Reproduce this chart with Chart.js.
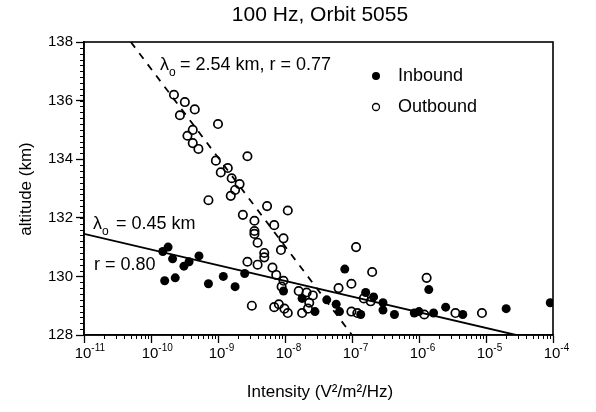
<!DOCTYPE html>
<html>
<head>
<meta charset="utf-8">
<script src="https://cdn.jsdelivr.net/npm/chart.js@4.4.1/dist/chart.umd.min.js"></script>
<style>
  html, body { margin: 0; padding: 0; background: #fff; }
  #wrap { width: 596px; height: 412px; }
</style>
</head>
<body>
<div id="wrap"><canvas id="orbitChart" width="596" height="412"></canvas></div>
<script>
// values: intensity (V^2/m^2/Hz) and altitude (km)
const inboundX = [1.5e-10, 1.8e-10, 2.1e-10, 3.1e-10, 3.7e-10, 5.2e-10, 1.6e-10, 2.3e-10, 7.2e-10, 1.2e-9,
  1.8e-9, 2.5e-9, 9.5e-9, 1.8e-8, 2.8e-8, 4.2e-8, 5.8e-8, 6.5e-8, 7.8e-8, 1.35e-7,
  1.6e-7, 2.1e-7, 2.9e-7, 2.9e-7, 4.3e-7, 8.5e-7, 1.0e-6, 1.4e-6, 1.65e-6, 2.5e-6,
  4.5e-6, 2.0e-5, 9.1e-5];
const inboundY = [130.85, 131.0, 130.6, 130.35, 130.5, 130.7, 129.85, 129.95, 129.75, 130.0,
  129.65, 130.1, 129.5, 129.25, 128.8, 129.2, 129.05, 128.8, 130.25, 128.7,
  129.45, 129.3, 129.1, 128.85, 128.7, 128.75, 128.8, 129.55, 128.75, 128.95,
  128.7, 128.9, 129.1];

const outboundX = [2.2e-10, 3.2e-10, 4.5e-10, 2.7e-10, 1.0e-9, 4.2e-10, 3.5e-10, 4.2e-10, 5.1e-10, 2.75e-9,
  9.3e-10, 1.4e-9, 1.1e-9, 1.6e-9, 2.1e-9, 1.8e-9, 1.55e-9, 7.2e-10, 5.4e-9, 1.1e-8,
  2.35e-9, 3.5e-9, 6.9e-9, 3.5e-9, 3.5e-9, 3.9e-9, 4.9e-9, 4.9e-9, 2.75e-9, 3.9e-9,
  6.5e-9, 7.4e-9, 9.5e-9, 8.9e-9, 1.6e-8, 2.1e-8, 2.6e-8, 2.3e-8, 6.9e-9, 8.1e-9,
  9.8e-9, 1.1e-8, 1.8e-8, 2.2e-8, 3.2e-9, 1.15e-7, 2.0e-7, 9.8e-8, 6.3e-8, 1.5e-7,
  1.9e-7, 9.8e-8, 1.2e-7, 1.3e-6, 1.2e-6, 3.5e-6, 8.7e-6, 8.7e-9, 9.5e-9];
const outboundY = [136.2, 135.95, 135.7, 135.5, 135.2, 135.0, 134.8, 134.55, 134.35, 134.1,
  133.95, 133.7, 133.55, 133.35, 133.15, 132.95, 132.75, 132.6, 132.4, 132.25,
  132.1, 131.9, 131.75, 131.55, 131.45, 131.15, 130.8, 130.65, 130.5, 130.4,
  130.3, 130.05, 129.85, 129.65, 129.5, 129.45, 129.35, 129.1, 128.95, 129.05,
  128.9, 128.75, 128.75, 128.9, 129.0, 131.0, 130.15, 129.75, 129.6, 129.25,
  129.15, 128.8, 128.75, 129.95, 128.7, 128.75, 128.75, 130.9, 131.3];

// fitted lines (end points)
const inboundFitX = [1e-11, 2.8e-5];
const inboundFitY = [131.45, 128];
const outboundFitX = [5e-11, 1e-7];
const outboundFitY = [138, 128];

const decadeTicks = [1e-11, 1e-10, 1e-9, 1e-8, 1e-7, 1e-6, 1e-5, 1e-4];
const decadeExponents = ['-11', '-10', '-9', '-8', '-7', '-6', '-5', '-4'];
const altitudeTicks = [128, 130, 132, 134, 136, 138];

const FONT = "'Liberation Sans', Arial, Helvetica, sans-serif";

function pairs(xs, ys) {
    return xs.map((v, i) => ({ x: v, y: ys[i] }));
}

const overlay = {
    id: 'overlay',
    afterDraw(chart) {
        const { ctx, chartArea: a, scales: { x, y } } = chart;
        ctx.save();
        ctx.strokeStyle = '#000';
        ctx.fillStyle = '#000';

        // frame
        ctx.lineWidth = 1.6;
        ctx.strokeRect(a.left, a.top, a.right - a.left, a.bottom - a.top);

        // minor ticks
        ctx.lineWidth = 1;
        ctx.beginPath();
        for (let i = 1; i < 50; i++) {
            const py = Math.round(y.getPixelForValue(128 + i * 0.2)) + 0.5;
            ctx.moveTo(a.left - 4, py);
            ctx.lineTo(a.left, py);
        }
        for (let d = 0; d < decadeTicks.length - 1; d++) {
            for (let k = 2; k <= 9; k++) {
                const px = Math.round(x.getPixelForValue(k * decadeTicks[d])) + 0.5;
                ctx.moveTo(px, a.bottom);
                ctx.lineTo(px, a.bottom + 4);
            }
        }
        ctx.stroke();

        // x tick labels with superscript exponents
        decadeTicks.forEach((v, i) => {
            const px = x.getPixelForValue(v);
            ctx.font = '15px ' + FONT;
            ctx.textAlign = 'left';
            ctx.textBaseline = 'alphabetic';
            const w = ctx.measureText('10').width;
            ctx.fillText('10', px - w / 2 - 1, 358);
            ctx.font = '10px ' + FONT;
            ctx.fillText(decadeExponents[i], px + w / 2 - 1, 351);
        });

        // title
        ctx.textAlign = 'center';
        ctx.font = '21px ' + FONT;
        ctx.fillText('100 Hz, Orbit 5055', 320, 21);

        // axis titles
        ctx.font = '17px ' + FONT;
        ctx.textBaseline = 'middle';
        ctx.fillText('Intensity (V\u00b2/m\u00b2/Hz)', 320, 392);
        ctx.save();
        ctx.translate(26, 189);
        ctx.rotate(-Math.PI / 2);
        ctx.fillText('altitude (km)', 0, 0);
        ctx.restore();

        // fit annotations
        ctx.textAlign = 'left';
        ctx.textBaseline = 'alphabetic';
        ctx.font = '18px ' + FONT;
        ctx.fillText('\u03bb', 160, 70);
        ctx.fillText('= 2.54 km, r = 0.77', 180, 70);
        ctx.fillText('\u03bb', 93, 229);
        ctx.fillText('= 0.45 km', 116, 229);
        ctx.fillText('r = 0.80', 94, 270);
        ctx.font = '12px ' + FONT;
        ctx.fillText('o', 169, 76);
        ctx.fillText('o', 102, 235);

        // legend
        ctx.beginPath();
        ctx.arc(376, 76, 4, 0, Math.PI * 2);
        ctx.fill();
        ctx.beginPath();
        ctx.lineWidth = 1.3;
        ctx.arc(376, 107, 3.5, 0, Math.PI * 2);
        ctx.stroke();
        ctx.font = '18px ' + FONT;
        ctx.textBaseline = 'middle';
        ctx.fillText('Inbound', 398, 76);
        ctx.fillText('Outbound', 398, 107);

        ctx.restore();
    }
};

const ctx = document.getElementById('orbitChart').getContext('2d');

const orbitChart = new Chart(ctx, {
    type: 'scatter',
    data: {
        datasets: [
            {
                label: 'Inbound',
                data: pairs(inboundX, inboundY),
                pointRadius: 4.5,
                pointBackgroundColor: '#000',
                pointBorderColor: '#000',
                pointBorderWidth: 0
            },
            {
                label: 'Outbound',
                data: pairs(outboundX, outboundY),
                pointRadius: 4.2,
                pointBackgroundColor: 'rgba(0,0,0,0)',
                pointBorderColor: '#000',
                pointBorderWidth: 1.7
            },
            {
                label: 'Inbound fit',
                data: pairs(inboundFitX, inboundFitY),
                showLine: true,
                pointRadius: 0,
                borderColor: '#000',
                borderWidth: 1.8
            },
            {
                label: 'Outbound fit',
                data: pairs(outboundFitX, outboundFitY),
                showLine: true,
                pointRadius: 0,
                borderColor: '#000',
                borderWidth: 1.8,
                borderDash: [7, 7]
            }
        ]
    },
    options: {
        responsive: false,
        animation: false,
        devicePixelRatio: 1,
        layout: { padding: { top: 42, left: 0, right: 43, bottom: 0 } },
        scales: {
            x: {
                type: 'logarithmic',
                min: 1e-11,
                max: 1e-4,
                afterBuildTicks: scale => {
                    scale.ticks = decadeTicks.map(v => ({ value: v }));
                },
                afterFit: scale => { scale.height = 77; },
                ticks: { display: false },
                grid: { drawOnChartArea: false, color: '#000', tickLength: 8, tickWidth: 1.3 },
                border: { color: '#000', width: 1.6 }
            },
            y: {
                min: 128,
                max: 138,
                afterBuildTicks: scale => {
                    scale.ticks = altitudeTicks.map(v => ({ value: v }));
                },
                afterFit: scale => { scale.width = 84; },
                ticks: { color: '#000', font: { family: FONT, size: 15 }, padding: 3 },
                grid: { drawOnChartArea: false, color: '#000', tickLength: 8, tickWidth: 1.3 },
                border: { color: '#000', width: 1.6 }
            }
        },
        plugins: {
            legend: { display: false },
            tooltip: { enabled: false }
        }
    },
    plugins: [overlay]
});
</script>
</body>
</html>
